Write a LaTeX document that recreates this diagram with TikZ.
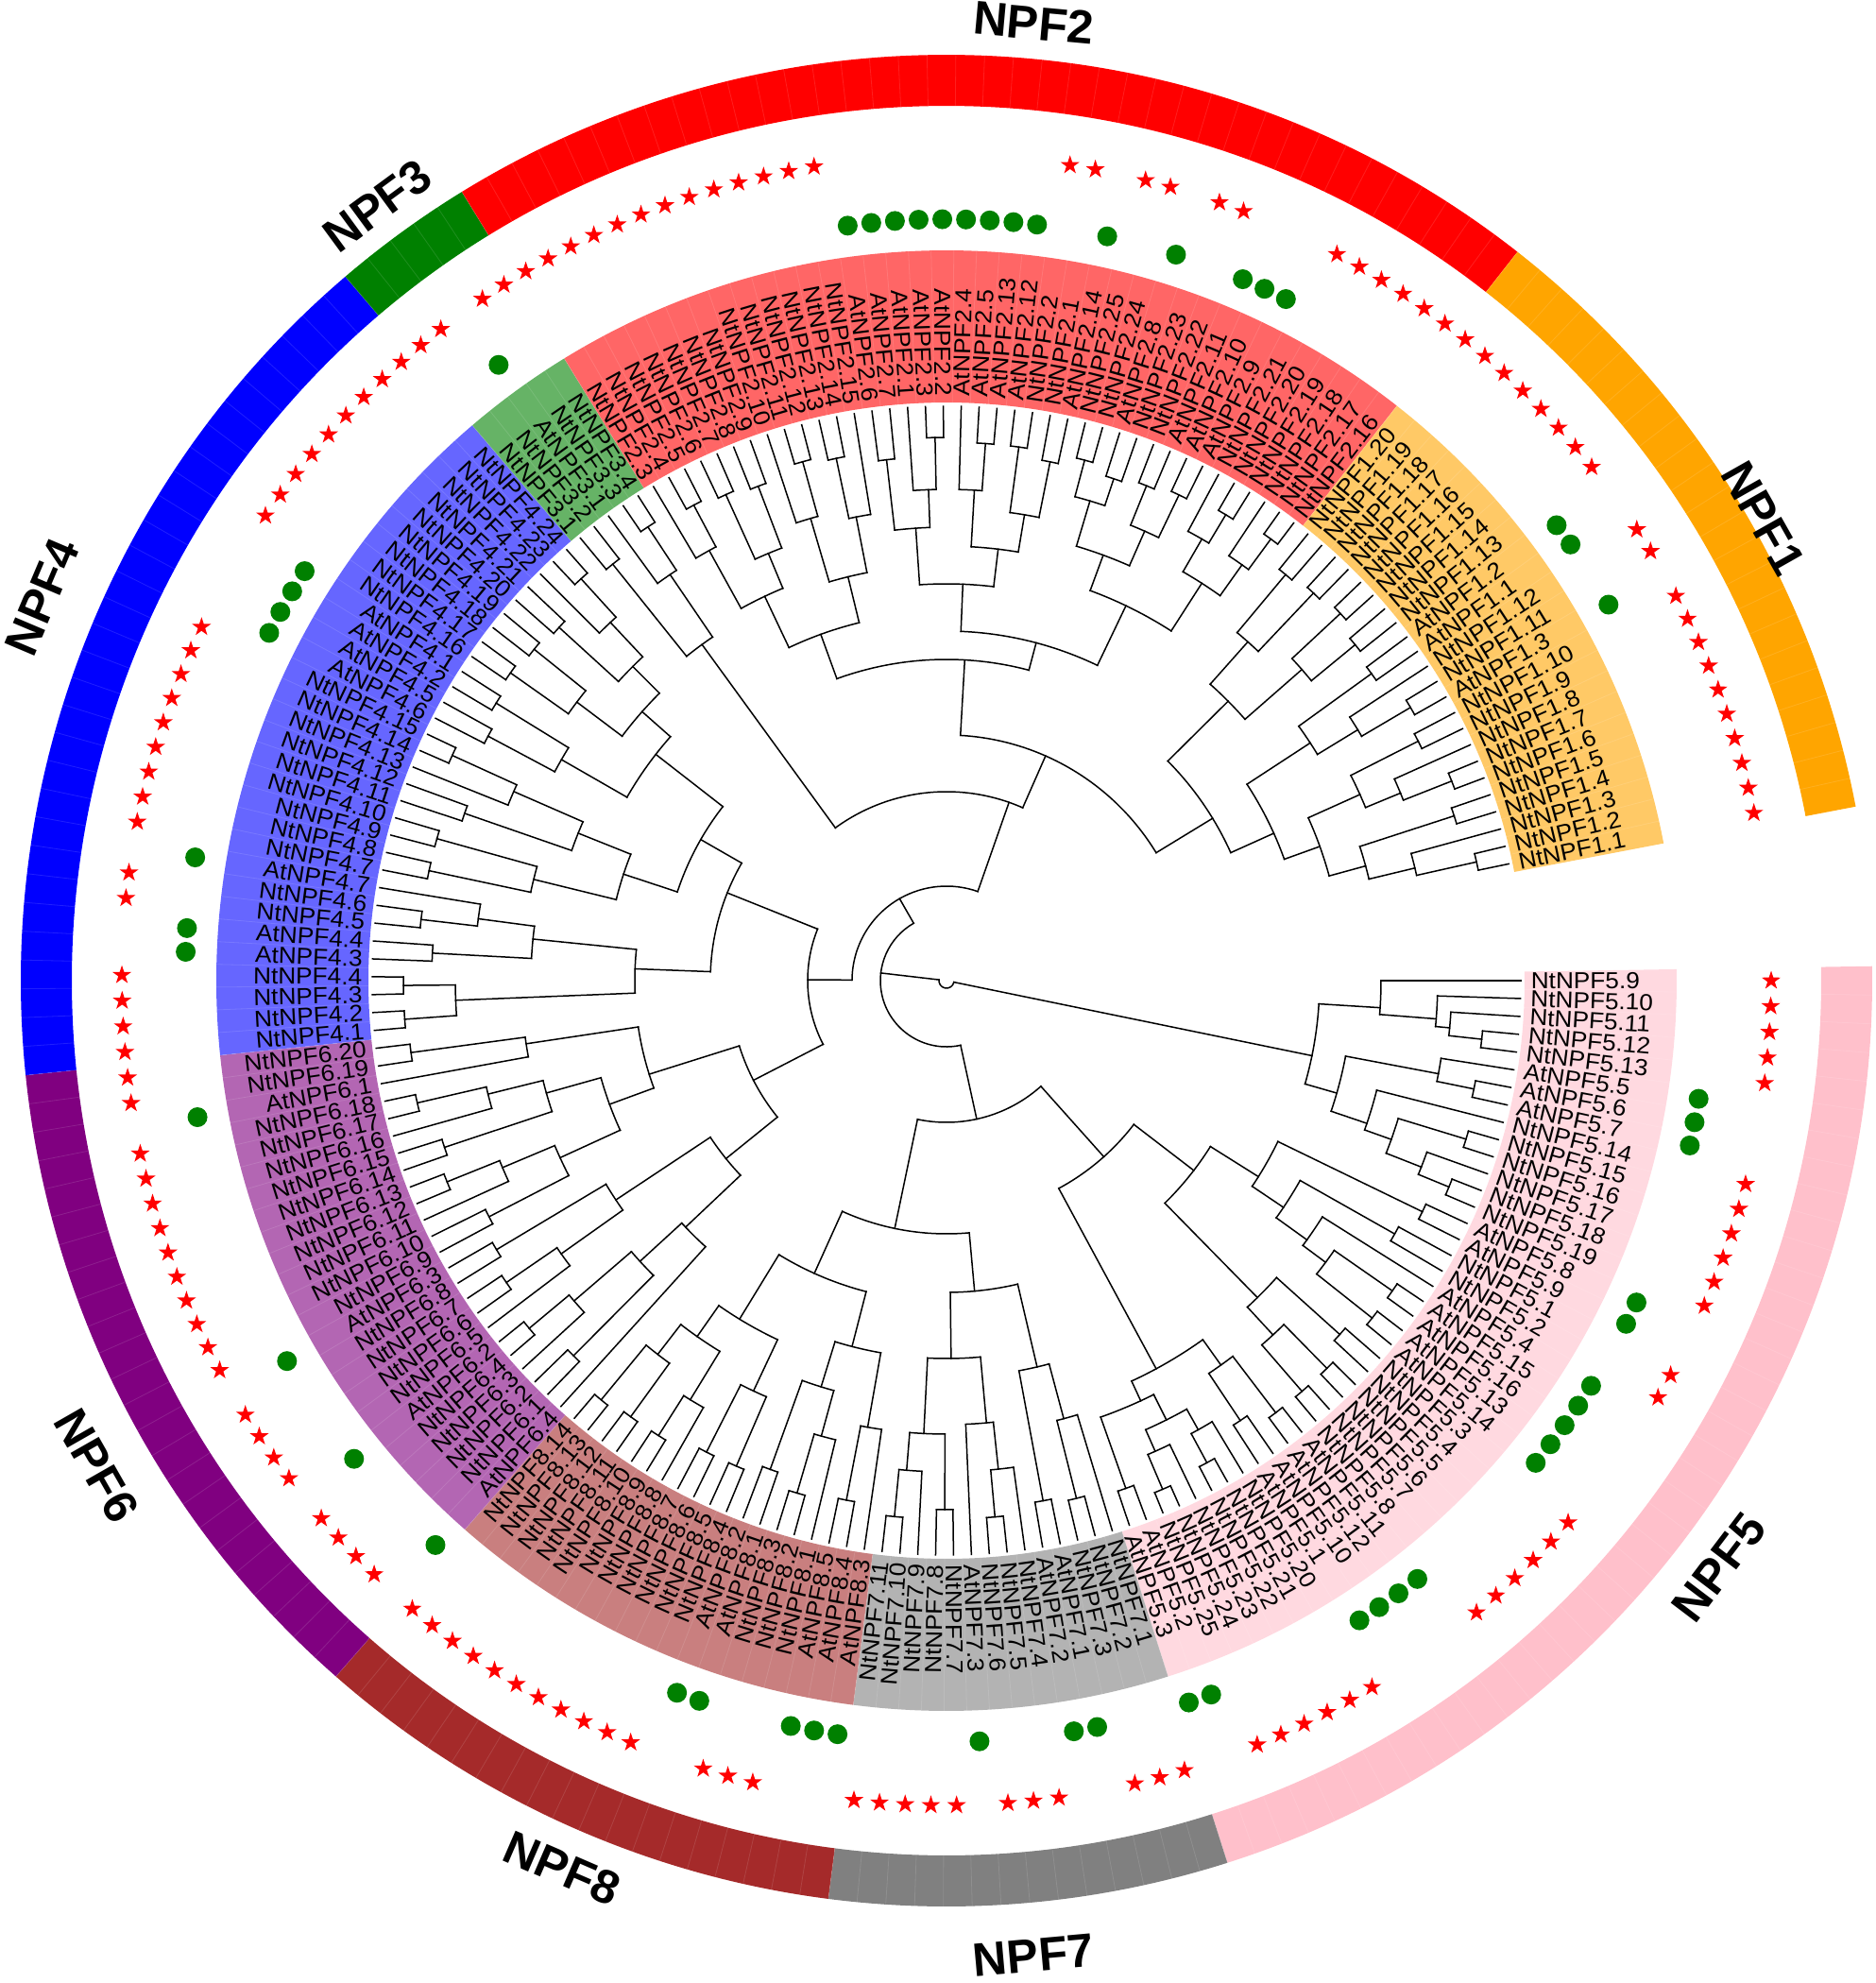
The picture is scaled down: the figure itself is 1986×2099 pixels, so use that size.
\documentclass[tikz,border=0pt]{standalone}
\usepackage{fontspec}
\setmainfont{Liberation Sans}
\usetikzlibrary{shapes.geometric}

\definecolor{npfone}{RGB}{255,165,0}
\definecolor{npftwo}{RGB}{255,0,0}
\definecolor{npfthree}{RGB}{0,128,0}
\definecolor{npffour}{RGB}{0,0,255}
\definecolor{npffive}{RGB}{255,192,203}
\definecolor{npfsix}{RGB}{128,0,128}
\definecolor{npfseven}{RGB}{128,128,128}
\definecolor{npfeight}{RGB}{165,42,42}
\definecolor{stared}{RGB}{255,0,0}
\definecolor{dotgreen}{RGB}{0,128,0}

\def\dstep{1.786}
\def\rleaf{608}
\def\firstchar#1#2\relax{#1}

% one split: leaves #1..#2 | #2+1..#3, node radius #4, parent radius #5
\newcommand{\clade}[5]{%
  \pgfmathsetmacro{\tha}{-\dstep*(#1+#2)/2}%
  \pgfmathsetmacro{\thb}{-\dstep*(#2+1+#3)/2}%
  \pgfmathsetmacro{\thm}{-\dstep*(#1+#3)/2}%
  \draw (\tha:#4pt) arc[start angle=\tha, end angle=\thb, radius=#4pt];
  \draw (\thm:#4pt) -- (\thm:#5pt);
  \ifnum#1=#2\relax \draw (\tha:#4pt) -- (\tha:\rleaf pt);\fi
  \pgfmathtruncatemacro{\nxt}{#2+1}%
  \ifnum\nxt=#3\relax \draw (\thb:#4pt) -- (\thb:\rleaf pt);\fi
}
% coloured arc band over leaves #1..#2 between radii #3 and #4
\newcommand{\npfband}[5]{%
  \pgfmathsetmacro{\bsa}{-\dstep*(#1-0.5)}%
  \pgfmathsetmacro{\bsb}{-\dstep*(#2+0.5)}%
  \fill[#5] (\bsa:#3pt) arc[start angle=\bsa, end angle=\bsb, radius=#3pt]
    -- (\bsb:#4pt) arc[start angle=\bsb, end angle=\bsa, radius=#4pt] -- cycle;
}
% family name outside the ring: name, angle, radius, text
\newcommand{\npflabel}[4]{%
  \pgfmathsetmacro{\lrot}{#2>0 ? #2-90 : #2+90}%
  \node[ringlab, rotate=\lrot] (#1) at (#2:#3pt) {#4};
}

\begin{document}
\begin{tikzpicture}[x=1pt,y=1pt,line width=1.5pt,line cap=rect,
  leaflab/.style={font=\fontsize{24.5}{25}\selectfont,inner sep=0pt},
  starmk/.style={star,star points=5,star point ratio=2.6,fill=stared,minimum size=21pt,inner sep=0pt},
  dotmk/.style={circle,fill=dotgreen,minimum size=21pt,inner sep=0pt},
  seam/.style={white,line width=0.8pt,opacity=0.12},
  ringlab/.style={font=\bfseries\fontsize{50}{50}\selectfont,inner sep=0pt}]
\useasboundingbox (-1002,-1061) rectangle (984,1038);

% label bands
\npfband{0}{40}{612}{773}{npffive!60}
\npfband{41}{54}{612}{773}{npfseven!60}
\npfband{55}{73}{612}{773}{npfeight!60}
\npfband{74}{97}{612}{773}{npfsix!60}
\npfband{98}{128}{612}{773}{npffour!60}
\npfband{129}{133}{612}{773}{npfthree!60}
\npfband{134}{172}{612}{773}{npftwo!60}
\npfband{173}{195}{612}{773}{npfone!60}

% outer ring
\npfband{0}{40}{926}{980}{npffive}
\npfband{41}{54}{926}{980}{npfseven}
\npfband{55}{73}{926}{980}{npfeight}
\npfband{74}{97}{926}{980}{npfsix}
\npfband{98}{128}{926}{980}{npffour}
\npfband{129}{133}{926}{980}{npfthree}
\npfband{134}{172}{926}{980}{npftwo}
\npfband{173}{195}{926}{980}{npfone}

% faint cell seams
\foreach \k in {1,...,195}{
  \pgfmathsetmacro{\ths}{-\dstep*(\k-0.5)}
  \draw[seam] (\ths:612pt) -- (\ths:773pt);
  \draw[seam] (\ths:926pt) -- (\ths:980pt);
}

% tree
\clade{0}{13}{195}{8}{8}
\clade{0}{4}{13}{395}{8}
\clade{0}{0}{4}{460}{395}
\clade{1}{1}{4}{520}{460}
\clade{2}{2}{4}{535}{520}
\clade{3}{3}{4}{570}{535}
\clade{5}{7}{13}{430}{395}
\clade{5}{5}{7}{530}{430}
\clade{6}{6}{7}{570}{530}
\clade{8}{8}{13}{470}{430}
\clade{9}{10}{13}{500}{470}
\clade{9}{9}{10}{575}{500}
\clade{11}{11}{13}{540}{500}
\clade{12}{12}{13}{575}{540}
\clade{14}{73}{195}{70}{8}
\clade{14}{40}{73}{150}{70}
\clade{14}{28}{40}{250}{150}
\clade{14}{22}{28}{330}{250}
\clade{14}{15}{22}{390}{330}
\clade{14}{14}{15}{560}{390}
\clade{16}{17}{22}{430}{390}
\clade{16}{16}{17}{545}{430}
\clade{18}{18}{22}{470}{430}
\clade{19}{20}{22}{500}{470}
\clade{19}{19}{20}{575}{500}
\clade{21}{21}{22}{575}{500}
\clade{23}{24}{28}{470}{330}
\clade{23}{23}{24}{560}{470}
\clade{25}{26}{28}{510}{470}
\clade{25}{25}{26}{575}{510}
\clade{27}{27}{28}{575}{510}
\clade{29}{32}{40}{467}{250}
\clade{29}{30}{32}{500}{467}
\clade{29}{29}{30}{575}{500}
\clade{31}{31}{32}{560}{500}
\clade{33}{38}{40}{490}{467}
\clade{33}{35}{38}{520}{490}
\clade{33}{33}{35}{545}{520}
\clade{34}{34}{35}{580}{545}
\clade{36}{36}{38}{545}{520}
\clade{37}{37}{38}{585}{545}
\clade{39}{39}{40}{570}{490}
\clade{41}{54}{73}{268}{150}
\clade{41}{45}{54}{330}{268}
\clade{41}{43}{45}{420}{330}
\clade{41}{41}{43}{480}{420}
\clade{42}{42}{43}{565}{480}
\clade{44}{44}{45}{560}{420}
\clade{46}{49}{54}{400}{330}
\clade{46}{48}{49}{470}{400}
\clade{46}{46}{48}{520}{470}
\clade{47}{47}{48}{570}{520}
\clade{50}{51}{54}{480}{400}
\clade{50}{50}{51}{560}{480}
\clade{52}{52}{54}{520}{480}
\clade{53}{53}{54}{570}{520}
\clade{55}{62}{73}{340}{268}
\clade{55}{57}{62}{400}{340}
\clade{55}{55}{57}{480}{400}
\clade{56}{56}{57}{560}{480}
\clade{58}{60}{62}{450}{400}
\clade{58}{58}{60}{500}{450}
\clade{59}{59}{60}{565}{500}
\clade{61}{61}{62}{550}{450}
\clade{63}{66}{73}{420}{340}
\clade{63}{64}{66}{480}{420}
\clade{63}{63}{64}{560}{480}
\clade{65}{65}{66}{560}{480}
\clade{67}{69}{73}{460}{420}
\clade{67}{67}{69}{520}{460}
\clade{68}{68}{69}{570}{520}
\clade{70}{71}{73}{500}{460}
\clade{70}{70}{71}{570}{500}
\clade{72}{72}{73}{575}{500}
\clade{74}{128}{195}{100}{70}
\clade{74}{97}{128}{147}{100}
\clade{74}{84}{97}{230}{147}
\clade{74}{79}{84}{300}{230}
\clade{74}{74}{79}{380}{300}
\clade{75}{76}{79}{440}{380}
\clade{75}{75}{76}{560}{440}
\clade{77}{77}{79}{520}{440}
\clade{78}{78}{79}{575}{520}
\clade{80}{82}{84}{420}{300}
\clade{80}{80}{82}{500}{420}
\clade{81}{81}{82}{565}{500}
\clade{83}{83}{84}{555}{420}
\clade{85}{94}{97}{330}{230}
\clade{85}{89}{94}{380}{330}
\clade{85}{86}{89}{450}{380}
\clade{85}{85}{86}{545}{450}
\clade{87}{87}{89}{510}{450}
\clade{88}{88}{89}{570}{510}
\clade{90}{91}{94}{440}{380}
\clade{90}{90}{91}{560}{440}
\clade{92}{92}{94}{500}{440}
\clade{93}{93}{94}{575}{500}
\clade{95}{95}{97}{450}{330}
\clade{96}{96}{97}{572}{450}
\clade{98}{106}{128}{250}{147}
\clade{98}{101}{106}{330}{250}
\clade{98}{99}{101}{520}{330}
\clade{98}{98}{99}{575}{520}
\clade{100}{100}{101}{575}{520}
\clade{102}{103}{106}{440}{330}
\clade{102}{102}{103}{545}{440}
\clade{104}{105}{106}{500}{440}
\clade{104}{104}{105}{560}{500}
\clade{107}{115}{128}{300}{250}
\clade{107}{110}{115}{360}{300}
\clade{107}{108}{110}{450}{360}
\clade{107}{107}{108}{560}{450}
\clade{109}{109}{110}{560}{450}
\clade{111}{112}{115}{420}{360}
\clade{111}{111}{112}{540}{420}
\clade{113}{113}{115}{500}{420}
\clade{114}{114}{115}{575}{500}
\clade{116}{119}{128}{390}{300}
\clade{116}{117}{119}{470}{390}
\clade{116}{116}{117}{550}{470}
\clade{118}{118}{119}{560}{470}
\clade{120}{123}{128}{430}{390}
\clade{120}{121}{123}{490}{430}
\clade{120}{120}{121}{565}{490}
\clade{122}{122}{123}{560}{490}
\clade{124}{125}{128}{470}{430}
\clade{124}{124}{125}{555}{470}
\clade{126}{126}{128}{520}{470}
\clade{127}{127}{128}{575}{520}
\clade{129}{133}{195}{200}{100}
\clade{129}{130}{133}{440}{200}
\clade{129}{129}{130}{565}{440}
\clade{131}{131}{133}{520}{440}
\clade{132}{132}{133}{575}{520}
\clade{134}{172}{195}{260}{200}
\clade{134}{146}{172}{340}{260}
\clade{134}{140}{146}{390}{340}
\clade{134}{136}{140}{450}{390}
\clade{134}{134}{136}{520}{450}
\clade{135}{135}{136}{570}{520}
\clade{137}{138}{140}{490}{450}
\clade{137}{137}{138}{565}{490}
\clade{139}{139}{140}{560}{490}
\clade{141}{143}{146}{440}{390}
\clade{141}{141}{143}{510}{440}
\clade{142}{142}{143}{570}{510}
\clade{144}{145}{146}{500}{440}
\clade{144}{144}{145}{565}{500}
\clade{147}{158}{172}{370}{340}
\clade{147}{151}{158}{420}{370}
\clade{147}{148}{151}{480}{420}
\clade{147}{147}{148}{555}{480}
\clade{149}{149}{151}{520}{480}
\clade{150}{150}{151}{575}{520}
\clade{152}{154}{158}{460}{420}
\clade{152}{152}{154}{520}{460}
\clade{153}{153}{154}{570}{520}
\clade{155}{156}{158}{500}{460}
\clade{155}{155}{156}{570}{500}
\clade{157}{157}{158}{560}{500}
\clade{159}{166}{172}{440}{370}
\clade{159}{162}{166}{480}{440}
\clade{159}{160}{162}{530}{480}
\clade{159}{159}{160}{570}{530}
\clade{161}{161}{162}{560}{530}
\clade{163}{164}{166}{520}{480}
\clade{163}{163}{164}{565}{520}
\clade{165}{165}{166}{570}{520}
\clade{167}{169}{172}{500}{440}
\clade{167}{167}{169}{540}{500}
\clade{168}{168}{169}{575}{540}
\clade{170}{170}{172}{540}{500}
\clade{171}{171}{172}{580}{540}
\clade{173}{180}{195}{330}{260}
\clade{173}{176}{180}{420}{330}
\clade{173}{174}{176}{480}{420}
\clade{173}{173}{174}{560}{480}
\clade{175}{175}{176}{565}{480}
\clade{177}{178}{180}{500}{420}
\clade{177}{177}{178}{570}{500}
\clade{179}{179}{180}{560}{500}
\clade{181}{185}{195}{380}{330}
\clade{181}{182}{185}{460}{380}
\clade{181}{181}{182}{555}{460}
\clade{183}{183}{185}{510}{460}
\clade{184}{184}{185}{570}{510}
\clade{186}{190}{195}{420}{380}
\clade{186}{187}{190}{480}{420}
\clade{186}{186}{187}{560}{480}
\clade{188}{188}{190}{520}{480}
\clade{189}{189}{190}{575}{520}
\clade{191}{192}{195}{460}{420}
\clade{191}{191}{192}{565}{460}
\clade{193}{193}{195}{510}{460}
\clade{194}{194}{195}{575}{510}

% leaf names, stars (Nt) and dots (At)
\foreach \nm [count=\i from 0] in {
  NtNPF5.9, NtNPF5.10, NtNPF5.11, NtNPF5.12, NtNPF5.13, AtNPF5.5, AtNPF5.6, AtNPF5.7,
  NtNPF5.14, NtNPF5.15, NtNPF5.16, NtNPF5.17, NtNPF5.18, NtNPF5.19, AtNPF5.8, AtNPF5.9,
  NtNPF5.1, NtNPF5.2, AtNPF5.4, AtNPF5.15, AtNPF5.16, AtNPF5.13, AtNPF5.14,
  NtNPF5.3, NtNPF5.4, NtNPF5.5, NtNPF5.6, NtNPF5.7, NtNPF5.8,
  AtNPF5.11, AtNPF5.12, AtNPF5.10, AtNPF5.1,
  NtNPF5.20, NtNPF5.21, NtNPF5.22, NtNPF5.23, NtNPF5.24, NtNPF5.25, AtNPF5.2, AtNPF5.3,
  NtNPF7.1, NtNPF7.2, NtNPF7.3, AtNPF7.1, AtNPF7.2, NtNPF7.4, NtNPF7.5, NtNPF7.6, AtNPF7.3,
  NtNPF7.7, NtNPF7.8, NtNPF7.9, NtNPF7.10, NtNPF7.11,
  AtNPF8.3, AtNPF8.4, AtNPF8.5, NtNPF8.1, NtNPF8.2, NtNPF8.3, AtNPF8.1, AtNPF8.2,
  NtNPF8.4, NtNPF8.5, NtNPF8.6, NtNPF8.7, NtNPF8.8, NtNPF8.9, NtNPF8.10, NtNPF8.11,
  NtNPF8.12, NtNPF8.13, NtNPF8.14,
  AtNPF6.4, NtNPF6.1, NtNPF6.2, NtNPF6.3, NtNPF6.4, AtNPF6.2, NtNPF6.5, NtNPF6.6,
  NtNPF6.7, NtNPF6.8, AtNPF6.3, NtNPF6.9, NtNPF6.10, NtNPF6.11, NtNPF6.12, NtNPF6.13,
  NtNPF6.14, NtNPF6.15, NtNPF6.16, NtNPF6.17, NtNPF6.18, AtNPF6.1, NtNPF6.19, NtNPF6.20,
  NtNPF4.1, NtNPF4.2, NtNPF4.3, NtNPF4.4, AtNPF4.3, AtNPF4.4, NtNPF4.5, NtNPF4.6, AtNPF4.7,
  NtNPF4.7, NtNPF4.8, NtNPF4.9, NtNPF4.10, NtNPF4.11, NtNPF4.12, NtNPF4.13, NtNPF4.14,
  NtNPF4.15, AtNPF4.6, AtNPF4.5, AtNPF4.2, AtNPF4.1, NtNPF4.16, NtNPF4.17, NtNPF4.18,
  NtNPF4.19, NtNPF4.20, NtNPF4.21, NtNPF4.22, NtNPF4.23, NtNPF4.24,
  NtNPF3.1, NtNPF3.2, AtNPF3.1, NtNPF3.3, NtNPF3.4,
  NtNPF2.3, NtNPF2.4, NtNPF2.5, NtNPF2.6, NtNPF2.7, NtNPF2.8, NtNPF2.9, NtNPF2.10,
  NtNPF2.11, NtNPF2.12, NtNPF2.13, NtNPF2.14, NtNPF2.15,
  AtNPF2.6, AtNPF2.7, AtNPF2.1, AtNPF2.3, AtNPF2.2, AtNPF2.4, AtNPF2.5, AtNPF2.13, AtNPF2.12,
  NtNPF2.2, NtNPF2.1, AtNPF2.14, NtNPF2.25, NtNPF2.24, AtNPF2.8, NtNPF2.23, NtNPF2.22,
  AtNPF2.11, AtNPF2.10, AtNPF2.9, NtNPF2.21, NtNPF2.20, NtNPF2.19, NtNPF2.18, NtNPF2.17, NtNPF2.16,
  NtNPF1.20, NtNPF1.19, NtNPF1.18, NtNPF1.17, NtNPF1.16, NtNPF1.15, NtNPF1.14, NtNPF1.13,
  AtNPF1.2, AtNPF1.1, NtNPF1.12, NtNPF1.11, AtNPF1.3, NtNPF1.10, NtNPF1.9, NtNPF1.8,
  NtNPF1.7, NtNPF1.6, NtNPF1.5, NtNPF1.4, NtNPF1.3, NtNPF1.2, NtNPF1.1}{
  \pgfmathsetmacro{\tha}{-\dstep*\i}
  \pgfmathtruncatemacro{\flip}{(\i>50)&&(\i<152)}
  \ifnum\flip=1
    \node[leaflab,anchor=east,rotate=\tha+180,xscale=1.07] (lab\i) at (\tha:618pt) {\nm};
  \else
    \node[leaflab,anchor=west,rotate=\tha,xscale=1.07] (lab\i) at (\tha:618pt) {\nm};
  \fi
  \edef\fc{\expandafter\firstchar\nm\relax}
  \if N\fc
    \node[starmk] (mk\i) at (\tha:873pt) {};
  \else
    \node[dotmk] (mk\i) at (\tha:806pt) {};
  \fi
}

% family names
\npflabel{rlone}{29.5}{994}{NPF1}
\npflabel{rltwo}{84.8}{1018}{NPF2}
\npflabel{rlthree}{126.3}{1018}{NPF3}
\npflabel{rlfour}{157}{1040}{NPF4}
\npflabel{rlfive}{-37.2}{1027}{NPF5}
\npflabel{rlsix}{-150.3}{1036}{NPF6}
\npflabel{rlseven}{-84.9}{1036}{NPF7}
\npflabel{rleight}{-113.4}{1024}{NPF8}
\end{tikzpicture}
\end{document}
